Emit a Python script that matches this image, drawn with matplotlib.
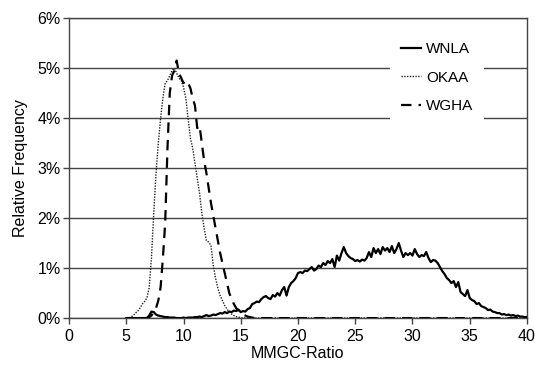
import numpy as np
import matplotlib
matplotlib.use("Agg")
import matplotlib.pyplot as plt
from matplotlib.ticker import FuncFormatter

plt.rcParams['font.family'] = ['Liberation Sans', 'DejaVu Sans']

# x positions (MMGC-Ratio), bins of 0.2 from 5 to 40
x_start, x_step, n_pts = 5.0, 0.2, 176

wnla = [
    0, 0, 0, 0, 0, 0, 0, 0, 0, 0,
    0.05, 0.13, 0.12, 0.07, 0.05, 0.04, 0.03, 0.02, 0.02, 0.01,
    0.01, 0.01, 0, 0, 0, 0.01, 0, 0.01, 0.01, 0.01,
    0.02, 0.02, 0.03, 0.02, 0.04, 0.06, 0.04, 0.05, 0.07, 0.06,
    0.08, 0.10, 0.09, 0.12, 0.10, 0.13, 0.12, 0.15, 0.14, 0.17,
    0.12, 0.14, 0.13, 0.18, 0.20, 0.28, 0.30, 0.33, 0.32, 0.38,
    0.42, 0.44, 0.40, 0.38, 0.46, 0.43, 0.50, 0.45, 0.56, 0.62,
    0.45, 0.62, 0.70, 0.74, 0.80, 0.90, 0.92, 0.90, 0.95, 0.94,
    0.98, 1.02, 0.95, 0.98, 1.05, 1.02, 1.10, 1.06, 1.14, 1.10,
    1.18, 1.02, 1.25, 1.15, 1.30, 1.42, 1.30, 1.24, 1.20, 1.18,
    1.14, 1.16, 1.13, 1.17, 1.15, 1.20, 1.32, 1.22, 1.40, 1.30,
    1.38, 1.28, 1.42, 1.35, 1.40, 1.32, 1.44, 1.30, 1.38, 1.50,
    1.35, 1.22, 1.30, 1.26, 1.30, 1.25, 1.38, 1.28, 1.22, 1.26,
    1.24, 1.32, 1.20, 1.12, 1.16, 1.15, 1.10, 1.02, 0.94, 0.88,
    0.80, 0.76, 0.70, 0.74, 0.62, 0.72, 0.52, 0.48, 0.44, 0.56,
    0.40, 0.36, 0.34, 0.28, 0.30, 0.24, 0.22, 0.20, 0.16, 0.17,
    0.13, 0.12, 0.10, 0.10, 0.07, 0.08, 0.06, 0.07, 0.05, 0.06,
    0.04, 0.05, 0.03, 0.03, 0.02, 0.02,
]

okaa = [
    0, 0, 0.02, 0.05, 0.10, 0.14, 0.20, 0.28, 0.33, 0.40,
    0.60, 1.20, 2.10, 2.90, 3.50, 4.00, 4.40, 4.70, 4.75, 4.85,
    4.95, 5.00, 4.90, 4.80, 4.75, 4.62, 4.40, 4.00, 3.60, 3.40,
    3.10, 2.80, 2.50, 2.10, 1.80, 1.55, 1.52, 1.45, 1.05, 0.80,
    0.60, 0.45, 0.35, 0.25, 0.18, 0.12, 0.08, 0.05, 0.03, 0.02,
    0.01,
] + [0.0] * 125

wgha = [
    0, 0, 0, 0, 0, 0, 0, 0, 0, 0,
    0.02, 0.05, 0.12, 0.20, 0.35, 0.62, 1.20, 1.90, 3.40, 4.50,
    4.85, 4.95, 5.15, 4.90, 4.80, 4.70, 4.75, 4.70, 4.60, 4.40,
    4.25, 3.80, 3.85, 3.50, 3.15, 2.90, 2.60, 2.30, 2.05, 1.80,
    1.55, 1.30, 1.10, 0.90, 0.70, 0.50, 0.38, 0.28, 0.20, 0.15,
    0.10, 0.07, 0.05, 0.03, 0.02, 0.01,
] + [0.0] * 120

series_names = ["WNLA", "OKAA", "WGHA"]
x_ticks = [0, 5, 10, 15, 20, 25, 30, 35, 40]
y_ticks = [0, 1, 2, 3, 4, 5, 6]

x = x_start + x_step * np.arange(n_pts)

fig = plt.figure(figsize=(5.35, 3.69), dpi=100)
ax = fig.add_axes([0.129, 0.138, 0.856, 0.813])

ax.plot(x, wnla, color='black', lw=1.6, ls='-', label=series_names[0], zorder=3)
ax.plot(x, okaa, color='#222222', lw=1.0, ls=(0, (1, 1)), label=series_names[1], zorder=3)
ax.plot(x, wgha, color='black', lw=1.6, ls=(0, (4.7, 3.2)), label=series_names[2], zorder=3)

ax.set_xlim(0, 40)
ax.set_ylim(0, 6)
ax.set_xticks(x_ticks)
ax.set_yticks(y_ticks)
ax.yaxis.set_major_formatter(FuncFormatter(lambda v, p: f"{int(v)}%"))
ax.yaxis.grid(True, color='#444444', lw=1.0, zorder=1)
ax.set_axisbelow(True)
for s in ax.spines.values():
    s.set_color('#444444')
    s.set_linewidth(1.0)
ax.tick_params(axis='both', direction='out', length=4, width=1.0, color='#444444',
               labelsize=11.5)
ax.tick_params(axis='x', pad=4)
ax.tick_params(axis='y', pad=2)

ax.set_xlabel("MMGC-Ratio", fontsize=11.5, labelpad=1)
ax.set_ylabel("Relative Frequency", fontsize=11.5, labelpad=7)

leg = ax.legend(loc='upper right', bbox_to_anchor=(0.906, 0.955), frameon=True,
                fontsize=11, handlelength=1.3, handletextpad=0.35,
                labelspacing=0.95, borderpad=0.7, borderaxespad=0,
                framealpha=1.0)
leg.get_frame().set_edgecolor('white')
leg.get_frame().set_facecolor('white')
leg.get_frame().set_linewidth(0)

fig.savefig("out.png", dpi=100)
